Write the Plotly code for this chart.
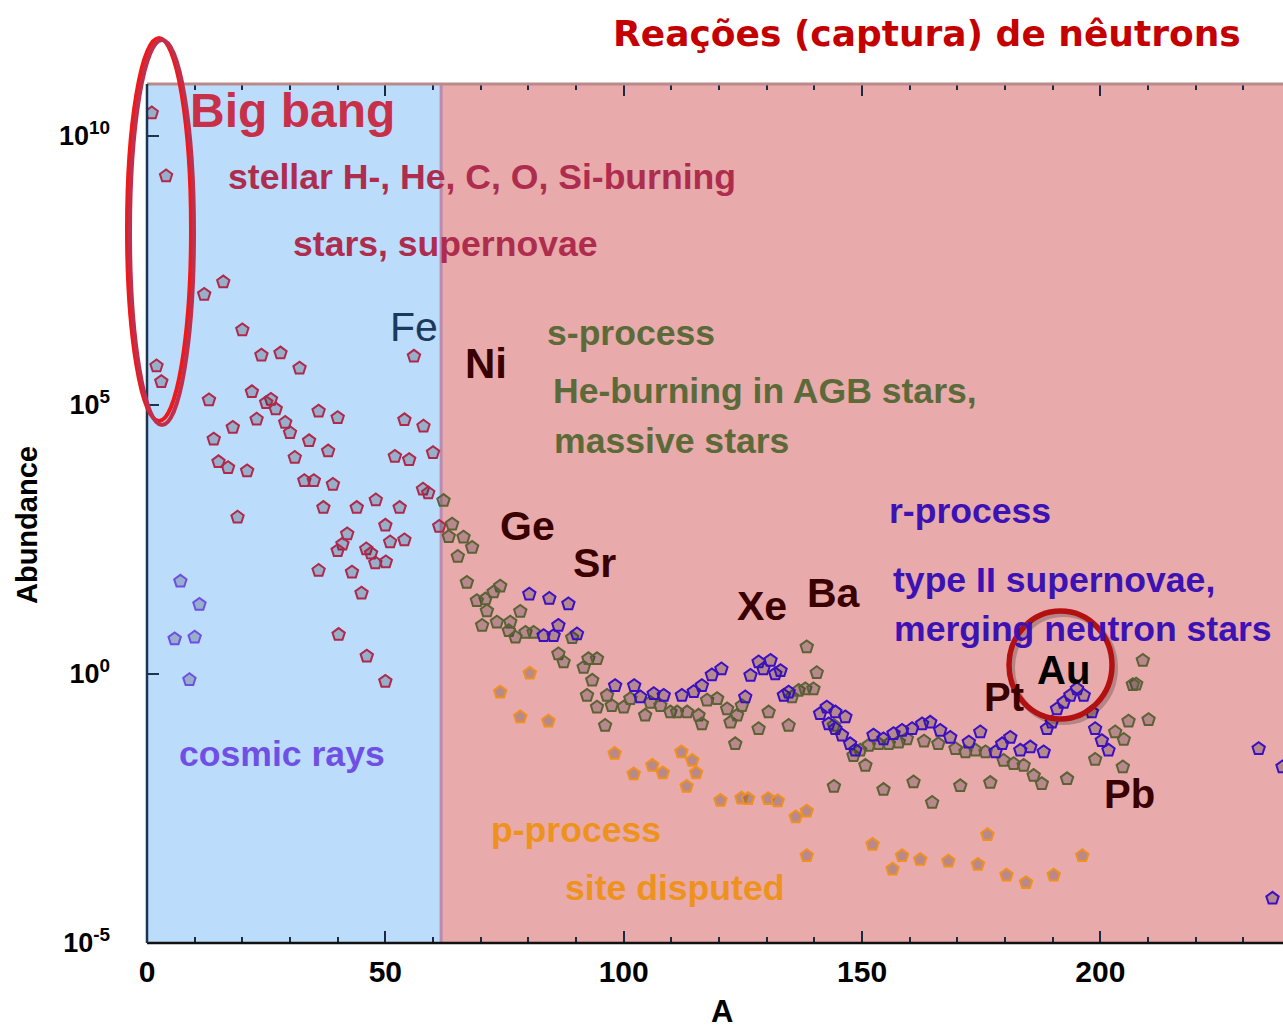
import plotly.graph_objects as go

# ---------------- data (mass number A, log10 abundance) ----------------
stellar_A = [1, 4, 2, 3, 12, 16, 20, 24, 28, 32, 56, 13, 22, 26, 25, 27, 23, 29, 36, 40,
             54, 18, 58, 30, 14, 34, 38, 52, 55, 60, 15, 17, 21, 31, 33, 35, 39, 57.9, 59,
             19, 37, 44, 48, 53, 50, 51, 54, 42, 41, 40, 46, 47, 47.9, 50.1, 61.3, 36, 43,
             45, 40.2, 46.1, 50]
stellar_log = [10.42, 9.25, 5.72, 5.43, 7.05, 7.28, 6.39, 5.92, 5.96, 5.68, 5.90, 5.09, 5.24,
               5.10, 5.04, 4.92, 4.73, 4.67, 4.88, 4.76, 4.72, 4.58, 4.60, 4.48, 4.36, 4.33,
               4.14, 4.04, 3.98, 4.11, 3.94, 3.83, 3.77, 4.02, 3.59, 3.59, 3.52, 3.43, 3.36,
               2.91, 3.09, 3.09, 3.23, 3.09, 2.76, 2.45, 2.49, 2.60, 2.41, 2.29, 2.32, 2.24,
               2.06, 2.08, 2.74, 1.92, 1.89, 1.50, 0.73, 0.33, -0.14]

cosmic_A = [7, 11, 5.8, 10, 8.9]
cosmic_log = [1.72, 1.29, 0.65, 0.68, -0.11]

s_A = [62.2, 64.0, 63.3, 66.4, 68.2, 65.2, 67.1, 74.1, 72.7, 71.0, 69.2, 71.3, 78.3, 70.3,
       73.4, 76.2, 75.9, 77.3, 79.4, 81.1, 89.2, 86.3, 87.4, 91.6, 92.6, 94.4, 93.4, 92.3,
       94.4, 96.5, 97.5, 100.0, 101.4, 96.1, 104.5, 105.6, 107.7, 109.8, 111.2, 113.3,
       115.7, 116.4, 117.5, 119.6, 121.7, 122.4, 123.8, 124.8, 123.4, 128.3, 130.4, 134.6,
       135.3, 136.7, 138.1, 139.8, 140.5, 138.4, 148.2, 144.1, 154.5, 160.8, 164.7, 170.6,
       176.9, 193.0, 208.9, 207.5, 206.8, 210.1, 205.9, 203.1, 204.9, 198.9, 204.7, 144.1,
       149.6, 150.7, 151.4, 153.5, 155.6, 157.7, 159.4, 163.0, 166.0, 169.6, 171.7, 173.8,
       175.9, 179.7, 181.8, 183.9, 186.0, 187.7]
s_log = [3.22, 2.78, 2.55, 2.54, 2.35, 2.18, 1.70, 1.63, 1.52, 1.39, 1.36, 1.17, 1.16, 0.90,
         0.96, 0.96, 0.80, 0.68, 0.77, 0.77, 0.67, 0.37, 0.22, 0.12, 0.28, 0.28, -0.12, -0.40,
         -0.62, -0.40, -0.59, -0.62, -0.46, -0.96, -0.77, -0.53, -0.59, -0.71, -0.71, -0.71,
         -0.77, -0.93, -0.49, -0.46, -0.65, -0.90, -0.77, -0.59, -1.30, -1.02, -0.71, -0.96,
         -0.43, -0.31, -0.28, -0.28, 0.02, 0.50, -1.52, -2.09, -2.15, -2.01, -2.39, -2.08,
         -2.02, -1.95, 0.25, -0.19, -0.20, -0.85, -0.88, -1.08, -1.22, -1.59, -1.73, -0.96,
         -1.42, -1.70, -1.33, -1.30, -1.30, -1.27, -1.21, -1.25, -1.30, -1.39, -1.45, -1.42,
         -1.45, -1.61, -1.67, -1.70, -1.89, -2.04]

r_A = [80.2, 84.4, 88.4, 86.3, 90.2, 83.2, 85.3, 98.2, 102.2, 103.5, 106.3, 108.4, 112.2,
       114.7, 116.4, 118.5, 120.5, 125.5, 126.6, 128.3, 129.3, 130.8, 131.8, 132.9, 133.6,
       134.6, 141.2, 142.6, 144.4, 146.5, 143.0, 144.4, 145.8, 147.5, 148.6, 152.4, 154.5,
       156.6, 158.4, 160.5, 162.6, 164.3, 166.4, 168.5, 172.4, 174.8, 178.0, 179.4, 181.1,
       183.2, 185.3, 188.1, 188.8, 189.8, 190.9, 192.3, 193.7, 195.1, 196.5, 198.2, 198.9,
       200.3, 201.7, 233.2, 238.2, 236.1]
r_log = [1.48, 1.40, 1.30, 0.90, 0.74, 0.71, 0.71, -0.22, -0.22, -0.43, -0.37, -0.40, -0.40,
         -0.33, -0.22, -0.02, 0.09, -0.43, -0.03, 0.22, 0.09, 0.25, 0.00, 0.06, -0.40, -0.34,
         -0.74, -0.62, -0.71, -0.80, -0.93, -1.02, -1.14, -1.30, -1.42, -1.14, -1.21, -1.11,
         -1.05, -1.02, -0.93, -0.90, -1.05, -1.18, -1.27, -1.08, -1.45, -1.30, -1.18, -1.42,
         -1.36, -1.45, -1.02, -0.90, -0.65, -0.53, -0.40, -0.28, -0.40, -0.71, -1.02, -1.24,
         -1.42, -1.39, -1.73, -4.17]

p_A = [80.3, 74.1, 78.3, 84.2, 98.1, 102.1, 106.0, 108.2, 112.1, 114.4, 115.2, 113.2, 120.3,
       124.7, 126.1, 130.3, 132.3, 136.1, 138.4, 138.4, 152.2, 156.4, 158.4, 162.2, 168.1,
       174.3, 176.3, 180.3, 184.4, 190.2, 196.2]
p_log = [0.01, -0.34, -0.80, -0.88, -1.48, -1.86, -1.70, -1.84, -1.45, -1.61, -1.84, -2.09,
         -2.35, -2.31, -2.32, -2.32, -2.36, -2.66, -2.55, -3.38, -3.17, -3.63, -3.38, -3.45,
         -3.48, -3.54, -2.99, -3.74, -3.88, -3.74, -3.38]

x_tickvals = [0, 50, 100, 150, 200]
y_tick_exp = [10, 5, 0, -5]
y_ticktext = ["10<sup>10</sup>", "10<sup>5</sup>", "10<sup>0</sup>", "10<sup>-5</sup>"]
burning_edge_A = 61.7

# ---------------- geometry helpers (pixel -> paper) ----------------
W, H = 1283, 1028
ML, MR, MT, MB = 147, 0, 84, 85
PL, PR, PT, PB = ML, W - MR, MT, H - MB


def px(x):
    return (x - PL) / (PR - PL)


def py(y):
    return (PB - y) / (PB - PT)


FILL = "rgba(40,40,50,0.25)"

fig = go.Figure()


def add_series(A, lg, line_color, name):
    fig.add_trace(go.Scatter(
        x=A, y=[10 ** v for v in lg], mode="markers", name=name,
        marker=dict(symbol="pentagon", size=13, color=FILL,
                    line=dict(color=line_color, width=2)),
        showlegend=False, hoverinfo="x+y"))


add_series(stellar_A, stellar_log, "#b0284a", "stellar")
add_series(cosmic_A, cosmic_log, "#6e4fe6", "cosmic rays")
add_series(s_A, s_log, "#5c6236", "s-process")
add_series(p_A, p_log, "#f0901e", "p-process")
add_series(r_A, r_log, "#3a10c4", "r-process")

shapes = [
    dict(type="rect", xref="x", yref="paper", x0=0, x1=burning_edge_A, y0=0, y1=1,
         fillcolor="#bcdcfc", line=dict(width=0), layer="below"),
    dict(type="line", xref="x", yref="paper", x0=burning_edge_A, x1=burning_edge_A, y0=0, y1=1,
         line=dict(color="rgba(185,140,175,1)", width=3), layer="below"),
    # frame lines
    dict(type="line", xref="paper", yref="paper", x0=0, x1=1, y0=0, y1=0,
         line=dict(color="#111", width=2.5)),
    dict(type="line", xref="paper", yref="paper", x0=0, x1=1, y0=1, y1=1,
         line=dict(color="#b88a8a", width=3)),
    dict(type="line", xref="paper", yref="paper", x0=0, x1=0, y0=0, y1=1,
         line=dict(color="#1b3550", width=2.5)),
    # left ellipse (two tones)
    dict(type="circle", xref="paper", yref="paper", x0=px(127), x1=px(191), y0=py(421), y1=py(38),
         line=dict(color="#ee1a1a", width=4)),
    dict(type="circle", xref="paper", yref="paper", x0=px(130), x1=px(194), y0=py(425), y1=py(40),
         line=dict(color="#c0304e", width=4)),
    # Au circle with shadow
    dict(type="circle", xref="paper", yref="paper", x0=px(1012), x1=px(1115), y0=py(722), y1=py(614),
         line=dict(color="rgba(0,0,0,0.22)", width=6)),
    dict(type="circle", xref="paper", yref="paper", x0=px(1009), x1=px(1112), y0=py(719), y1=py(611),
         line=dict(color="#b31111", width=5.5)),
]

SANS = "Liberation Sans, Arial, sans-serif"
TS = 35.6  # size of the process labels

texts = [
    # text, center x, baseline y, size, color, family, bold
    ("Reações (captura) de nêutrons", 927, 46, 36, "#c40000", "Comic Sans MS, DejaVu Sans", True),
    ("Big bang", 292, 127, 48, "#c8304a", SANS, True),
    ("stellar H-, He, C, O, Si-burning", 482, 189, TS, "#ae2c4e", SANS, True),
    ("stars, supernovae", 445, 256, TS, "#ae2c4e", SANS, True),
    ("Fe", 414, 341, 41, "#1c3a5c", SANS, False),
    ("Ni", 486, 378, 42, "#3a0000", SANS, True),
    ("s-process", 631, 345, TS, "#5c6a3a", SANS, True),
    ("He-burning in AGB stars,", 765, 403, TS, "#5c6a3a", SANS, True),
    ("massive stars", 671, 453, TS, "#5c6a3a", SANS, True),
    ("Ge", 527, 540, 41, "#3a0000", SANS, True),
    ("Sr", 594, 577, 41, "#3a0000", SANS, True),
    ("Xe", 762, 620, 41, "#3a0000", SANS, True),
    ("Ba", 834, 607, 41, "#3a0000", SANS, True),
    ("r-process", 970, 523, TS, "#3c12b4", SANS, True),
    ("type II supernovae,", 1054, 592, TS, "#3c12b4", SANS, True),
    ("merging neutron stars", 1083, 641, TS, "#3c12b4", SANS, True),
    ("Au", 1063, 684, 40, "#000000", SANS, True),
    ("Pt", 1004, 711, 40, "#3a0000", SANS, True),
    ("Pb", 1129, 808, 40, "#3a0000", SANS, True),
    ("cosmic rays", 282, 766, TS, "#7050e4", SANS, True),
    ("p-process", 576, 842, TS, "#ee921e", SANS, True),
    ("site disputed", 674, 900, TS, "#ee921e", SANS, True),
    ("A", 722, 1022, 31, "#000000", SANS, True),
]

annotations = []
for t, cx, base, size, col, fam, bold in texts:
    annotations.append(dict(
        text=t, x=px(cx), y=py(base - 0.35 * size), xref="paper", yref="paper",
        xanchor="center", yanchor="middle", showarrow=False,
        font=dict(family=fam, size=size, color=col, weight="bold" if bold else "normal")))

annotations.append(dict(
    text="Abundance", x=px(27), y=py(525), xref="paper", yref="paper",
    xanchor="center", yanchor="middle", showarrow=False, textangle=-90,
    font=dict(family=SANS, size=29, color="#000", weight="bold")))

fig.update_layout(
    width=W, height=H,
    margin=dict(l=ML, r=MR, t=MT, b=MB, pad=0),
    paper_bgcolor="white", plot_bgcolor="#e8aaaa",
    shapes=shapes, annotations=annotations, showlegend=False,
    xaxis=dict(range=[0, (PR - PL) / 4.767], showgrid=False, zeroline=False, showline=False,
               tickvals=x_tickvals, ticks="inside", ticklen=12, tickwidth=2, tickcolor="#1b2a40",
               mirror="ticks", ticklabelstandoff=8,
               minor=dict(dtick=10, ticks="inside", ticklen=6, tickwidth=2, tickcolor="#1b2a40"),
               tickfont=dict(family=SANS, size=30, color="#000", weight="bold")),
    yaxis=dict(type="log", range=[-5, 10.96], showgrid=False, zeroline=False, showline=False,
               tickvals=[10 ** e for e in y_tick_exp], ticktext=y_ticktext,
               ticks="inside", ticklen=12, tickwidth=2, tickcolor="#1b3550",
               ticklabelstandoff=36,
               tickfont=dict(family=SANS, size=27, color="#000", weight="bold")),
)

fig.write_html("out.html")
